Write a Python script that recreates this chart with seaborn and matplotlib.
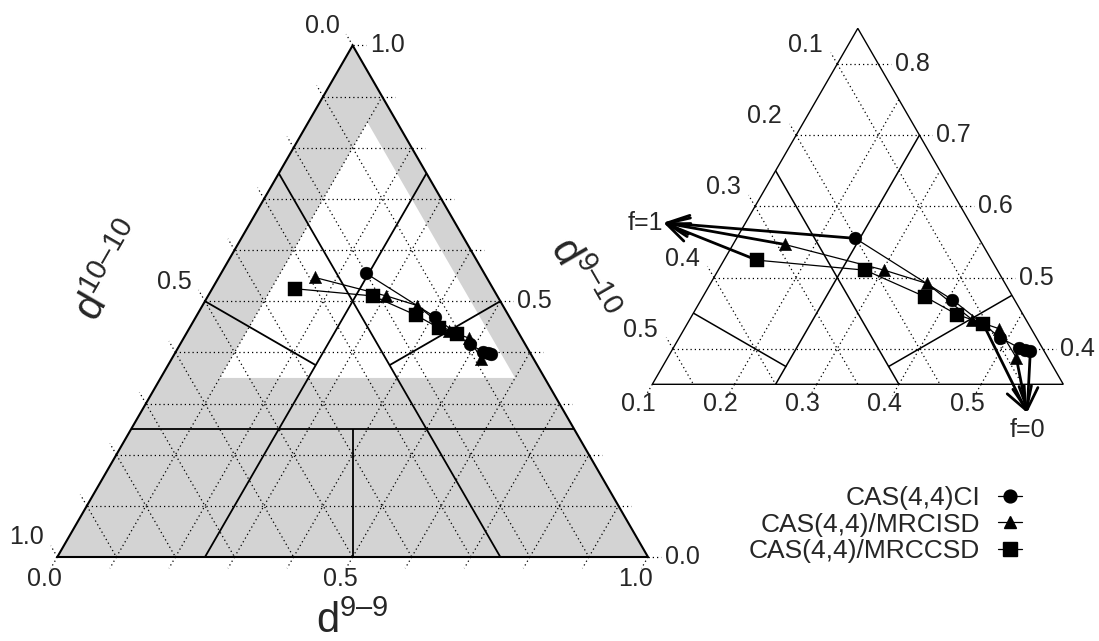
import numpy as np
import pandas as pd
import matplotlib
matplotlib.use("Agg")
import matplotlib.pyplot as plt
from matplotlib.lines import Line2D
from matplotlib.patches import Polygon
import seaborn as sns

sns.set_style("white")
plt.rcParams["font.family"] = ["Liberation Sans", "DejaVu Sans"]
plt.rcParams["mathtext.fontset"] = "custom"
plt.rcParams["mathtext.rm"] = "Liberation Sans"
plt.rcParams["mathtext.it"] = "Liberation Sans:italic"

# ---------------- data: compositions (d9-9, d10-10, d9-10) ----------------
series_names = ["CAS(4,4)CI", "CAS(4,4)/MRCISD", "CAS(4,4)/MRCCSD"]
series_markers = ["o", "^", "s"]

ci_d99 = [0.2445, 0.4056, 0.4907, 0.5198, 0.5294, 0.5365]
ci_d1010 = [0.2005, 0.1256, 0.0939, 0.0786, 0.0718, 0.0667]
ci_d910 = [0.5550, 0.4688, 0.4154, 0.4016, 0.3988, 0.3968]

sd_d99 = [0.1627, 0.3021, 0.3634, 0.4434, 0.4822, 0.5240]
sd_d1010 = [0.2908, 0.1876, 0.1450, 0.1156, 0.0895, 0.0884]
sd_d910 = [0.5465, 0.5103, 0.4916, 0.4410, 0.4283, 0.3876]

cc_d99 = [0.1402, 0.2790, 0.3707, 0.4217, 0.4596]
cc_d1010 = [0.3354, 0.2107, 0.1565, 0.1303, 0.1050]
cc_d910 = [0.5244, 0.5103, 0.4728, 0.4480, 0.4354]

# limits of the curves (f=1 and f=0)
f1_limit = [0.000, 0.423, 0.577]
f0_limit = [0.576, 0.114, 0.310]

# reference lines of the partition (d9-9, d10-10, d9-10) pairs of end points
partition_lines = [
    [(0.00, 0.75, 0.25), (0.75, 0.00, 0.25)],
    [(0.25, 0.75, 0.00), (0.25, 0.00, 0.75)],
    [(0.75, 0.25, 0.00), (0.00, 0.25, 0.75)],
    [(0.00, 0.50, 0.50), (0.25, 0.375, 0.375)],
    [(0.50, 0.00, 0.50), (0.375, 0.25, 0.375)],
    [(0.50, 0.50, 0.00), (0.375, 0.375, 0.25)],
]
# zoom window (minimum values of d9-9, d10-10, d9-10)
zoom_min = (0.10, 0.05, 0.35)

left_ticks = [round(0.1 * i, 1) for i in range(11)]
left_labels = [0.0, 0.5, 1.0]
right_ticks_a = [0.1, 0.2, 0.3, 0.4, 0.5]
right_ticks_b = [0.1, 0.2, 0.3, 0.4, 0.5]
right_ticks_c = [0.4, 0.5, 0.6, 0.7, 0.8]

SQ3 = np.sqrt(3) / 2


def to_xy(a, b, c):
    a = np.asarray(a, float); b = np.asarray(b, float); c = np.asarray(c, float)
    s = a + b + c
    a, c = a / s, c / s
    return a + c / 2, c * SQ3


# ---------------- figure ----------------
W, H = 1099, 641
fig = plt.figure(figsize=(W / 100, H / 100), dpi=100)

L_x0, L_y0, L_s = 57.3, 557.0, 590.7
R_x0, R_y0, R_s = 652.3, 384.3, 822.0

ax1 = fig.add_axes([0, 0, 1, 1])
ax1.set_xlim(-L_x0 / L_s, (W - L_x0) / L_s)
ax1.set_ylim(-(H - L_y0) / L_s, L_y0 / L_s)
ax1.axis("off")

amin, bmin, cmin = zoom_min
Xv, Yv = to_xy(amin, 1 - amin - cmin, cmin)
ax2 = fig.add_axes([0, 0, 1, 1])
ax2.set_xlim(Xv - R_x0 / R_s, Xv + (W - R_x0) / R_s)
ax2.set_ylim(Yv - (H - R_y0) / R_s, Yv + R_y0 / R_s)
ax2.axis("off")

GRAY = "#d3d3d3"
dot = dict(color="k", lw=0.9, ls=(0, (1, 2.4)))
PX = 0.72  # points per pixel


def seg(ax, p, q, **kw):
    x, y = to_xy([p[0], q[0]], [p[1], q[1]], [p[2], q[2]])
    return ax.plot(x, y, **kw)[0]


# ---------- left (full) triangle ----------
full = np.array([to_xy(0, 1, 0), to_xy(1, 0, 0), to_xy(0, 0, 1)])
ax1.add_patch(Polygon(full, closed=True, fc=GRAY, ec="none", zorder=0))
inner = np.array([to_xy(amin, 1 - amin - cmin, cmin),
                  to_xy(1 - bmin - cmin, bmin, cmin),
                  to_xy(amin, bmin, 1 - amin - bmin)])
ax1.add_patch(Polygon(inner, closed=True, fc="white", ec="none", zorder=0.5))

tl = 13.0 / L_s
for v in left_ticks:
    if 0 < v < 1:
        seg(ax1, (v, 1 - v, 0), (v, 0, 1 - v), zorder=1, **dot)
        seg(ax1, (0, v, 1 - v), (1 - v, v, 0), zorder=1, **dot)
        seg(ax1, (0, 1 - v, v), (1 - v, 0, v), zorder=1, **dot)
    # ticks
    x, y = to_xy(v, 1 - v, 0)
    ax1.plot([x, x - 0.5 * tl], [y, y - SQ3 * tl], zorder=1, **dot)
    x, y = to_xy(0, v, 1 - v)
    ax1.plot([x, x - 0.5 * tl], [y, y + SQ3 * tl], zorder=1, **dot)
    x, y = to_xy(1 - v, 0, v)
    ax1.plot([x, x + tl], [y, y], zorder=1, **dot)

for p, q in partition_lines:
    seg(ax1, p, q, color="k", lw=1.3, zorder=2, solid_capstyle="butt")
ax1.add_patch(Polygon(full, closed=True, fill=False, ec="k", lw=1.5, zorder=3))

for v in left_labels:
    txt = f"{v:.1f}"
    ax1.annotate(txt, to_xy(v, 1 - v, 0), xytext=(-12.5 * PX, -21.5 * PX),
                 textcoords="offset points", ha="center", va="center", fontsize=18)
    ax1.annotate(txt, to_xy(0, v, 1 - v), xytext=(-30.5 * PX, 19.5 * PX),
                 textcoords="offset points", ha="center", va="center", fontsize=18)
    ax1.annotate(txt, to_xy(1 - v, 0, v), xytext=(17 * PX, 0),
                 textcoords="offset points", ha="left", va="center", fontsize=18)

ax1.annotate("$\\mathrm{d^{9\u20139}}$", to_xy(0.5, 0.5, 0), xytext=(0, -76 * PX),
             textcoords="offset points", ha="center", va="baseline", fontsize=30)
ax1.annotate("$\\mathrm{d^{10\u201310}}$", to_xy(0, 0.5, 0.5), xytext=(-92 * PX, 28.5 * PX),
             textcoords="offset points", ha="center", va="center", fontsize=30, rotation=60)
ax1.annotate("$\\mathrm{d^{9\u201310}}$", to_xy(0.5, 0, 0.5), xytext=(80 * PX, 21 * PX),
             textcoords="offset points", ha="center", va="center", fontsize=30, rotation=-60)

# ---------- right (zoomed) triangle ----------
zoom_poly = Polygon(inner, closed=True, fill=False, ec="k", lw=1.0, zorder=3,
                    transform=ax2.transData)
ax2.add_patch(zoom_poly)

tr = 13.0 / R_s
for v in right_ticks_a:
    if v > amin:
        ln = seg(ax2, (v, 1 - v - cmin, cmin), (v, bmin, 1 - v - bmin), zorder=1, **dot)
        ln.set_clip_path(zoom_poly)
    x, y = to_xy(v, 1 - v - cmin, cmin)
    ax2.plot([x, x - 0.5 * tr], [y, y - SQ3 * tr], zorder=1, **dot)
    ax2.annotate(f"{v:.1f}", (x, y), xytext=(-14 * PX, -19.5 * PX),
                 textcoords="offset points", ha="center", va="center", fontsize=18)
for v in right_ticks_b:
    ln = seg(ax2, (amin, v, 1 - amin - v), (1 - v - cmin, v, cmin), zorder=1, **dot)
    ln.set_clip_path(zoom_poly)
    x, y = to_xy(amin, v, 1 - amin - v)
    ax2.plot([x, x - 0.5 * tr], [y, y + SQ3 * tr], zorder=1, **dot)
    ax2.annotate(f"{v:.1f}", (x, y), xytext=(-32 * PX, 19 * PX),
                 textcoords="offset points", ha="center", va="center", fontsize=18)
for v in right_ticks_c:
    ln = seg(ax2, (amin, 1 - amin - v, v), (1 - v - bmin, bmin, v), zorder=1, **dot)
    ln.set_clip_path(zoom_poly)
    x, y = to_xy(1 - v - bmin, bmin, v)
    ax2.plot([x, x + tr], [y, y], zorder=1, **dot)
    ax2.annotate(f"{v:.1f}", (x, y), xytext=(17 * PX, 0),
                 textcoords="offset points", ha="left", va="center", fontsize=18)

for p, q in partition_lines:
    ln = seg(ax2, p, q, color="k", lw=1.1, zorder=2)
    ln.set_clip_path(zoom_poly)

# ---------- data ----------
comp = [(ci_d99, ci_d1010, ci_d910), (sd_d99, sd_d1010, sd_d910), (cc_d99, cc_d1010, cc_d910)]
rows = []
for name, (a, b, c) in zip(series_names, comp):
    X, Y = to_xy(a, b, c)
    for i, (x, y) in enumerate(zip(X, Y)):
        rows.append(dict(method=name, step=i, X=x, Y=y))
df = pd.DataFrame(rows)

sizes = {"o": 85, "^": 80, "s": 92}
for ax in (ax1, ax2):
    sns.lineplot(data=df, x="X", y="Y", units="method", estimator=None, sort=False,
                 color="k", lw=0.9, ax=ax, legend=False, zorder=4)
    for name, mk in zip(series_names, series_markers):
        sub = df[df.method == name]
        sns.scatterplot(data=sub, x="X", y="Y", marker=mk, s=sizes[mk], color="k",
                        edgecolor="k", linewidth=0.3, ax=ax, legend=False, zorder=5)
    ax.set_xlabel(""); ax.set_ylabel("")
    ax.axis("off")

# arrows toward the limits in the zoom
f1 = to_xy(*f1_limit)
f0 = to_xy(*f0_limit)
aprops = dict(arrowstyle="->,head_length=0.8,head_width=0.34", lw=2.0, color="k",
              mutation_scale=20, shrinkA=0, shrinkB=0)
for (a, b, c) in comp:
    start = to_xy(a[0], b[0], c[0])
    ax2.annotate("", xy=f1, xytext=start, arrowprops=aprops, zorder=6)
    end = to_xy(a[-1], b[-1], c[-1])
    ax2.annotate("", xy=f0, xytext=end, arrowprops=aprops, zorder=6)
ax2.annotate("f=1", f1, xytext=(0, 0), textcoords="offset points",
             ha="right", va="center", fontsize=18)
ax2.annotate("f=0", f0, xytext=(0, -4), textcoords="offset points",
             ha="center", va="top", fontsize=18)

# legend
handles = [Line2D([], [], color="k", lw=0.9, marker=m, markersize=np.sqrt(sizes[m]))
           for m in series_markers]
fig.legend(handles, series_names, loc="upper right",
           bbox_to_anchor=(1021.7 / W, 1 - 486 / H), markerfirst=False,
           frameon=False, fontsize=19, handlelength=0.91, handletextpad=0.67,
           labelspacing=0.1, borderpad=0, borderaxespad=0)

fig.savefig("out.png", dpi=100)
